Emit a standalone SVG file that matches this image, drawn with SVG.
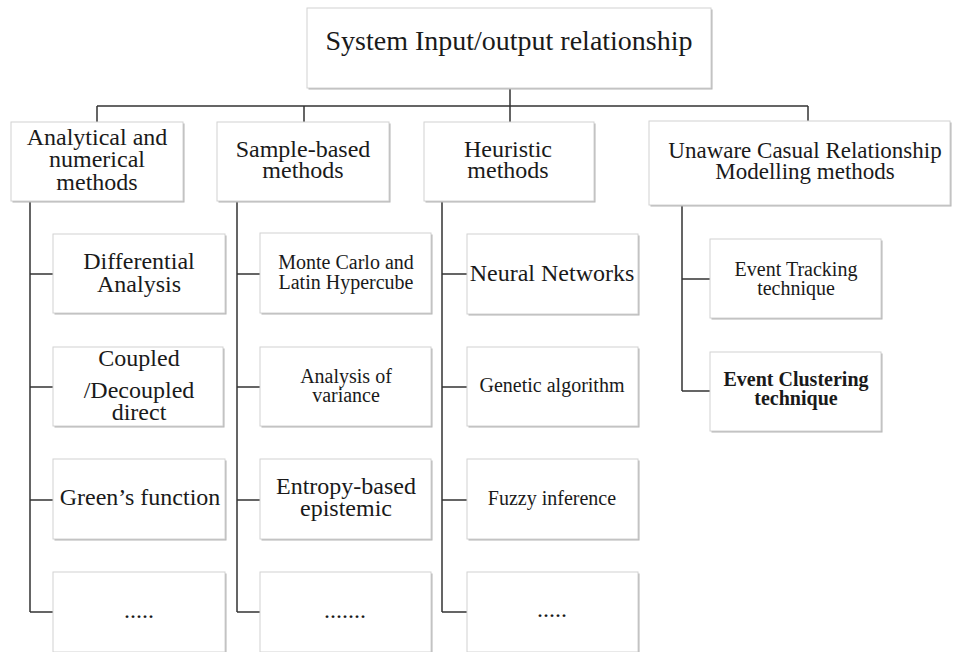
<svg xmlns="http://www.w3.org/2000/svg" width="955" height="652" viewBox="0 0 955 652">
  <defs>
    <style>
      .box { fill: #ffffff; stroke: #d2d2d2; stroke-width: 1; }
      .shadow { fill: #b4b4b4; }
      .link { fill: none; stroke: #333333; stroke-width: 1.5; }
      text { font-family: "Liberation Serif", "Times New Roman", serif; fill: #1a1a1a; text-anchor: middle; }
      .t28 { font-size: 28px; }
      .t24 { font-size: 24px; }
      .t23 { font-size: 23px; }
      .t20 { font-size: 20px; }
      .b { font-weight: bold; }
    </style>
  </defs>
  <rect width="955" height="652" fill="#ffffff"/>

  <!-- connectors: main bus, then one trunk per column with side branches -->
  <g id="connectors" class="link">
    <path d="M510 88 V106 M97 106 H808 M97 106 V122 M304 106 V122 M510 106 V122 M808 106 V121"/>
    <path d="M30 201 V612 M30 274 H53 M30 387 H53 M30 500 H53 M30 612 H53"/>
    <path d="M237 201 V612 M237 274 H260 M237 387 H260 M237 500 H260 M237 612 H260"/>
    <path d="M442 201 V612 M442 274 H467 M442 387 H467 M442 500 H467 M442 612 H467"/>
    <path d="M682 205 V391 M682 279 H710 M682 391 H710"/>
  </g>

  <!-- root -->
  <g id="root">
    <rect class="shadow" x="308.5" y="9.5" width="404" height="80"/>
    <rect class="box" x="307" y="8" width="404" height="80"/>
    <text class="t28" x="509" y="50">System Input/output relationship</text>
  </g>

  <!-- category headers -->
  <g id="analytical">
    <rect class="shadow" x="12.5" y="123.5" width="172" height="79"/>
    <rect class="box" x="11" y="122" width="172" height="79"/>
    <text class="t24" x="97" y="145">Analytical and</text>
    <text class="t24" x="97" y="167">numerical</text>
    <text class="t24" x="97" y="190">methods</text>
  </g>
  <g id="sample-based">
    <rect class="shadow" x="218.5" y="123.5" width="172" height="79"/>
    <rect class="box" x="217" y="122" width="172" height="79"/>
    <text class="t24" x="303" y="157">Sample-based</text>
    <text class="t24" x="303" y="178">methods</text>
  </g>
  <g id="heuristic">
    <rect class="shadow" x="425.5" y="123.5" width="170" height="79"/>
    <rect class="box" x="424" y="122" width="170" height="79"/>
    <text class="t24" x="508" y="157">Heuristic</text>
    <text class="t24" x="508" y="178">methods</text>
  </g>
  <g id="causal-modelling">
    <rect class="shadow" x="650.5" y="122.5" width="301" height="84"/>
    <rect class="box" x="649" y="121" width="301" height="84"/>
    <text class="t23" x="805" y="158">Unaware Casual Relationship</text>
    <text class="t23" x="805" y="179">Modelling methods</text>
  </g>

  <!-- analytical methods -->
  <g id="differential-analysis">
    <rect class="shadow" x="54.5" y="235.5" width="172" height="79"/>
    <rect class="box" x="53" y="234" width="172" height="79"/>
    <text class="t24" x="139" y="269">Differential</text>
    <text class="t24" x="139" y="292">Analysis</text>
  </g>
  <g id="coupled-decoupled">
    <rect class="shadow" x="54.5" y="348.5" width="170" height="79"/>
    <rect class="box" x="53" y="347" width="170" height="79"/>
    <text class="t24" x="139" y="366">Coupled</text>
    <text class="t24" x="139" y="398">/Decoupled</text>
    <text class="t24" x="139" y="420">direct</text>
  </g>
  <g id="greens-function">
    <rect class="shadow" x="54.5" y="460.5" width="172" height="80"/>
    <rect class="box" x="53" y="459" width="172" height="80"/>
    <text class="t24" x="140" y="505">Green’s function</text>
  </g>
  <g id="analytical-more">
    <rect class="shadow" x="54.5" y="573.5" width="172" height="80"/>
    <rect class="box" x="53" y="572" width="172" height="80"/>
    <text class="t24" x="139" y="618">.....</text>
  </g>

  <!-- sample-based methods -->
  <g id="monte-carlo">
    <rect class="shadow" x="261.5" y="234.5" width="171" height="80"/>
    <rect class="box" x="260" y="233" width="171" height="80"/>
    <text class="t20" x="346" y="269">Monte Carlo and</text>
    <text class="t20" x="346" y="289">Latin Hypercube</text>
  </g>
  <g id="analysis-of-variance">
    <rect class="shadow" x="261.5" y="348.5" width="171" height="79"/>
    <rect class="box" x="260" y="347" width="171" height="79"/>
    <text class="t20" x="346" y="383">Analysis of</text>
    <text class="t20" x="346" y="402">variance</text>
  </g>
  <g id="entropy-based">
    <rect class="shadow" x="261.5" y="460.5" width="171" height="80"/>
    <rect class="box" x="260" y="459" width="171" height="80"/>
    <text class="t24" x="346" y="494">Entropy-based</text>
    <text class="t24" x="346" y="516">epistemic</text>
  </g>
  <g id="sample-more">
    <rect class="shadow" x="261.5" y="573.5" width="171" height="80"/>
    <rect class="box" x="260" y="572" width="171" height="80"/>
    <text class="t24" x="345" y="618">.......</text>
  </g>

  <!-- heuristic methods -->
  <g id="neural-networks">
    <rect class="shadow" x="468.5" y="235.5" width="171" height="80"/>
    <rect class="box" x="467" y="234" width="171" height="80"/>
    <text class="t24" x="552" y="281">Neural Networks</text>
  </g>
  <g id="genetic-algorithm">
    <rect class="shadow" x="468.5" y="348.5" width="171" height="79"/>
    <rect class="box" x="467" y="347" width="171" height="79"/>
    <text class="t20" x="552" y="392">Genetic algorithm</text>
  </g>
  <g id="fuzzy-inference">
    <rect class="shadow" x="468.5" y="460.5" width="171" height="80"/>
    <rect class="box" x="467" y="459" width="171" height="80"/>
    <text class="t20" x="552" y="505">Fuzzy inference</text>
  </g>
  <g id="heuristic-more">
    <rect class="shadow" x="468.5" y="573.5" width="171" height="80"/>
    <rect class="box" x="467" y="572" width="171" height="80"/>
    <text class="t24" x="552" y="617">.....</text>
  </g>

  <!-- causal modelling methods -->
  <g id="event-tracking">
    <rect class="shadow" x="711.5" y="240.5" width="171" height="79"/>
    <rect class="box" x="710" y="239" width="171" height="79"/>
    <text class="t20" x="796" y="276">Event Tracking</text>
    <text class="t20" x="796" y="295">technique</text>
  </g>
  <g id="event-clustering">
    <rect class="shadow" x="711.5" y="353.5" width="171" height="79"/>
    <rect class="box" x="710" y="352" width="171" height="79"/>
    <text class="t20 b" x="796" y="386">Event Clustering</text>
    <text class="t20 b" x="796" y="405">technique</text>
  </g>
</svg>
